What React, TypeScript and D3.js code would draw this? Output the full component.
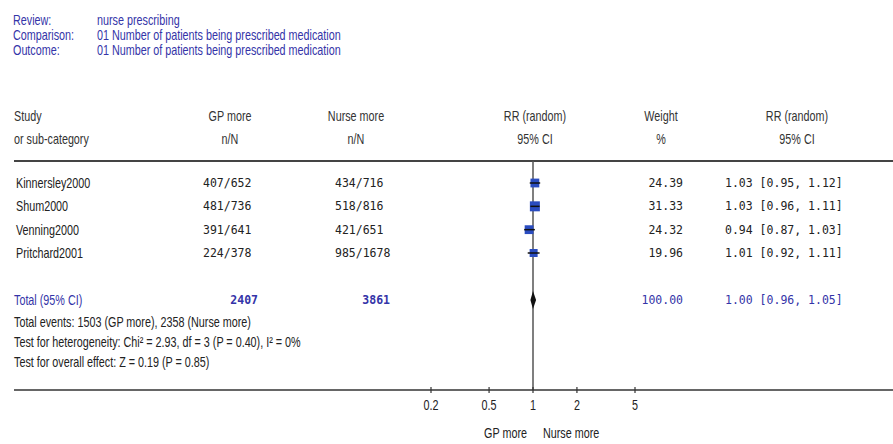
import React from "react";
import * as d3 from "d3";

const titleLabels = ["Review:", "Comparison:", "Outcome:"];
const titleValues = [
  "nurse prescribing",
  "01 Number of patients being prescribed medication",
  "01 Number of patients being prescribed medication",
];
const studies = ["Kinnersley2000", "Shum2000", "Venning2000", "Pritchard2001"];
const gpEvents = [407, 481, 391, 224];
const gpTotals = [652, 736, 641, 378];
const nurseEvents = [434, 518, 421, 985];
const nurseTotals = [716, 816, 651, 1678];
const weights = [24.39, 31.33, 24.32, 19.96];
const rr = [1.03, 1.03, 0.94, 1.01];
const rrLow = [0.95, 0.96, 0.87, 0.92];
const rrHigh = [1.12, 1.11, 1.03, 1.11];
const pooled = { n1: 2407, n2: 3861, weight: 100.0, rr: 1.0, low: 0.96, high: 1.05 };
const summaryLines = [
  "Total events: 1503 (GP more), 2358 (Nurse more)",
  "Test for heterogeneity: Chi\u00b2 = 2.93, df = 3 (P = 0.40), I\u00b2 = 0%",
  "Test for overall effect: Z = 0.19 (P = 0.85)",
];
const tickValues = [0.2, 0.5, 1, 2, 5];

const W = 893;
const H = 444;
const SANS = "'Liberation Sans', Arial, sans-serif";
const MONO = "'DejaVu Sans Mono', 'Liberation Mono', monospace";
const BLUE = "#3434a8";
const DARK = "#333";
const SQUARE = "#2a4cc0";
const SX = 0.77;

type TProps = {
  x: number;
  y: number;
  anchor?: "start" | "middle" | "end";
  fill?: string;
  size?: number;
  children: React.ReactNode;
};

function T({ x, y, anchor = "start", fill = "#222", size = 14, children }: TProps) {
  return (
    <text
      transform={`translate(${x},${y}) scale(${SX},1)`}
      textAnchor={anchor}
      fontFamily={SANS}
      fontSize={size}
      fill={fill}
    >
      {children}
    </text>
  );
}

export default function App() {
  const x = d3.scaleLog().domain([0.2, 5]).range([431, 635]);
  const rowY = d3.scaleLinear().domain([0, studies.length - 1]).range([183, 253]);
  const titleY = d3.scaleLinear().domain([0, 2]).range([20, 50]);
  const sumY = d3.scaleLinear().domain([0, 2]).range([322, 362]);
  const totalY = 300;
  const headerLineY = 161;
  const axisY = 390;
  const sq = d3.scaleSqrt().domain([0, d3.max(weights) as number]).range([0, 10]);
  const f2 = d3.format(".2f");
  const ci = (a: number, l: number, h: number) => `${f2(a)} [${f2(l)}, ${f2(h)}]`;

  return (
    <svg
      width={W}
      height={H}
      style={{ position: "absolute", left: 0, top: 0, background: "#fff" }}
    >
      {/* titles */}
      {titleLabels.map((t, i) => (
        <g key={t}>
          <T x={13} y={titleY(i) + 5} fill={BLUE}>{t}</T>
          <T x={97} y={titleY(i) + 5} fill={BLUE}>{titleValues[i]}</T>
        </g>
      ))}

      {/* column headers */}
      <T x={14} y={121} fill={DARK}>Study</T>
      <T x={14} y={144} fill={DARK}>or sub-category</T>
      <T x={230} y={121} anchor="middle" fill={DARK}>GP more</T>
      <T x={230} y={144} anchor="middle" fill={DARK}>n/N</T>
      <T x={356} y={121} anchor="middle" fill={DARK}>Nurse more</T>
      <T x={356} y={144} anchor="middle" fill={DARK}>n/N</T>
      <T x={535} y={121} anchor="middle" fill={DARK}>RR (random)</T>
      <T x={535} y={144} anchor="middle" fill={DARK}>95% CI</T>
      <T x={661} y={121} anchor="middle" fill={DARK}>Weight</T>
      <T x={661} y={144} anchor="middle" fill={DARK}>%</T>
      <T x={797} y={121} anchor="middle" fill={DARK}>RR (random)</T>
      <T x={797} y={144} anchor="middle" fill={DARK}>95% CI</T>
      <line x1={14} x2={W} y1={headerLineY} y2={headerLineY} stroke="#444" strokeWidth={2} />

      {/* vertical line of no effect */}
      <line x1={x(1)} x2={x(1)} y1={headerLineY} y2={axisY} stroke="#555" strokeWidth={1.5} />

      {/* study rows */}
      {studies.map((s, i) => {
        const y = rowY(i);
        const side = sq(weights[i]);
        return (
          <g key={s}>
            <T x={16} y={y + 5}>{s}</T>
            <g fontFamily={MONO} fontSize={11.5} fill="#222">
              <text x={203} y={y + 4}>{`${gpEvents[i]}/${gpTotals[i]}`}</text>
              <text x={335} y={y + 4}>{`${nurseEvents[i]}/${nurseTotals[i]}`}</text>
              <text x={683} y={y + 4} textAnchor="end">{f2(weights[i])}</text>
              <text x={725} y={y + 4}>{ci(rr[i], rrLow[i], rrHigh[i])}</text>
            </g>
            <rect
              x={x(rr[i]) - side / 2}
              y={y - side / 2}
              width={side}
              height={side}
              fill={SQUARE}
            />
            <line x1={x(rrLow[i])} x2={x(rrHigh[i])} y1={y} y2={y} stroke="#111" strokeWidth={1.5} />
          </g>
        );
      })}

      {/* total row */}
      <g>
        <T x={14} y={totalY + 5} fill={BLUE}>Total (95% CI)</T>
        <g fontFamily={MONO} fontSize={11.5} fill={BLUE} fontWeight="bold">
          <text x={258} y={totalY + 4} textAnchor="end">{pooled.n1}</text>
          <text x={390} y={totalY + 4} textAnchor="end">{pooled.n2}</text>
        </g>
        <g fontFamily={MONO} fontSize={11.5} fill={BLUE}>
          <text x={683} y={totalY + 4} textAnchor="end">{f2(pooled.weight)}</text>
          <text x={725} y={totalY + 4}>{ci(pooled.rr, pooled.low, pooled.high)}</text>
        </g>
        <path
          d={`M${x(pooled.low)},${totalY} L${x(pooled.rr)},${totalY - 9} L${x(pooled.high)},${totalY} L${x(pooled.rr)},${totalY + 9} Z`}
          fill="#111"
        />
      </g>

      {/* summary text */}
      {summaryLines.map((t, i) => (
        <T key={i} x={14} y={sumY(i) + 5}>{t}</T>
      ))}

      {/* axis */}
      <line x1={14} x2={W} y1={axisY} y2={axisY} stroke="#333" strokeWidth={1.5} />
      {tickValues.map((t) => (
        <g key={t}>
          <line x1={x(t)} x2={x(t)} y1={axisY - 3} y2={axisY + 3} stroke="#333" strokeWidth={1.2} />
          <T x={x(t)} y={axisY + 20} anchor="middle">{d3.format("~g")(t)}</T>
        </g>
      ))}
      <T x={527} y={axisY + 48} anchor="end">GP more</T>
      <T x={543} y={axisY + 48}>Nurse more</T>
    </svg>
  );
}
